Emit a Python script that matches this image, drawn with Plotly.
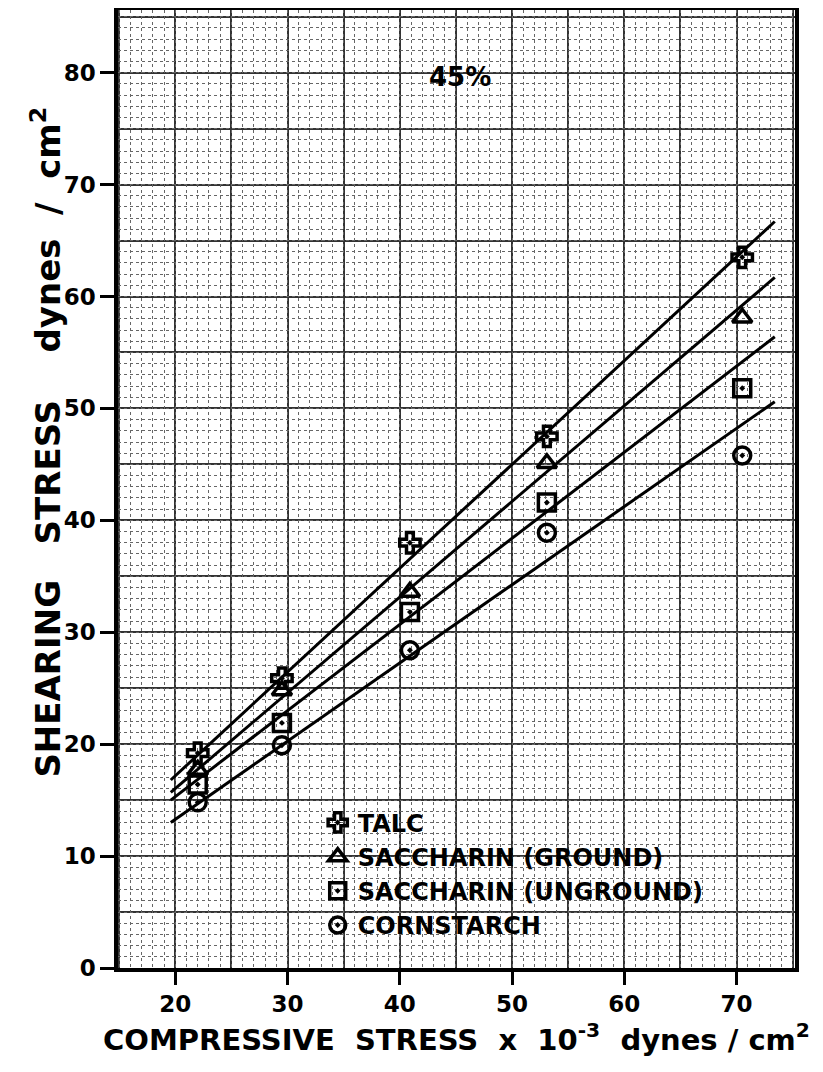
import plotly.graph_objects as go

# ---- data ----
compressive = [22.0, 29.5, 40.9, 53.1, 70.5]
talc = [19.2, 25.9, 38.0, 47.5, 63.5]
sacch_ground = [17.7, 24.8, 33.6, 45.1, 58.1]
sacch_unground = [16.4, 21.9, 31.8, 41.6, 51.8]
cornstarch = [14.8, 19.9, 28.4, 38.9, 45.8]

# fitted straight lines (end points)
line_x = [19.6, 73.4]
talc_line = [16.8, 66.7]
ground_line = [15.7, 61.7]
unground_line = [15.0, 56.4]
corn_line = [13.0, 50.6]

names = ["TALC", "SACCHARIN (GROUND)", "SACCHARIN (UNGROUND)", "CORNSTARCH"]
symbols = ["cross-open-dot", "triangle-up-open", "square-open-dot", "circle-open-dot"]
series = [talc, sacch_ground, sacch_unground, cornstarch]
lines = [talc_line, ground_line, unground_line, corn_line]

x_ticks = [20, 30, 40, 50, 60, 70]
y_ticks = [0, 10, 20, 30, 40, 50, 60, 70, 80]
x_range = [14.9, 75.2]
y_range = [0, 85.6]

fig = go.Figure()

# fine graph-paper grid on overlay axes
fig.add_trace(go.Scatter(x=[], y=[], xaxis="x2", yaxis="y2", showlegend=False))

for ly in lines:
    fig.add_trace(go.Scatter(x=line_x, y=ly, mode="lines",
                             line=dict(color="black", width=3),
                             showlegend=False, hoverinfo="skip"))

for nm, sym, ys in zip(names, symbols, series):
    fig.add_trace(go.Scatter(x=compressive, y=ys, mode="markers", name=nm,
                             marker=dict(symbol=sym, size=17, color="black",
                                         line=dict(color="black", width=3.5))))

fig.add_annotation(x=45.4, y=79.6, text="45%", showarrow=False,
                   font=dict(family="DejaVu Sans", size=26, color="black", weight="bold"))

# y-axis title (placed as a rotated annotation to match its offset position)
fig.add_annotation(xref="paper", yref="paper", x=-0.107, y=0.549,
                   text="SHEARING   STRESS    dynes  /  cm<sup>2</sup>",
                   textangle=-90, showarrow=False, xanchor="center", yanchor="middle",
                   font=dict(family="DejaVu Sans", size=34, color="black", weight="bold"))

tickfont = dict(family="DejaVu Sans", size=23, color="black", weight="bold")

# the page body adds an 8px offset, so the figure is 8px smaller on each axis
fig.update_layout(
    width=815, height=1064,
    margin=dict(l=110, r=28, t=2, b=104, autoexpand=False),
    paper_bgcolor="white", plot_bgcolor="white",
    showlegend=True,
    legend=dict(x=0.295, y=0.175, xanchor="left", yanchor="top",
                bgcolor="rgba(0,0,0,0)", borderwidth=0,
                font=dict(family="DejaVu Sans", size=24, color="black", weight="bold"),
                tracegroupgap=0),
    xaxis=dict(range=x_range, tickvals=x_ticks, ticks="outside", ticklen=13,
               tickwidth=2.5, tickcolor="black", tickfont=tickfont, automargin=False,
               showline=True, linewidth=3.5, linecolor="black", mirror=True,
               showgrid=True, gridcolor="#333", gridwidth=1.5,
               minor=dict(dtick=5, tick0=0, showgrid=True, gridcolor="#333",
                          gridwidth=1.5, ticks=""),
               zeroline=False,
               title=dict(text="COMPRESSIVE  STRESS  x  10<sup>-3</sup>  dynes / cm<sup>2</sup>",
                          font=dict(family="DejaVu Sans", size=29, color="black", weight="bold"),
                          standoff=14)),
    yaxis=dict(range=y_range, tickvals=y_ticks, ticks="outside", ticklen=14,
               tickwidth=2.5, tickcolor="black", tickfont=tickfont, automargin=False,
               showline=True, linewidth=3.5, linecolor="black", mirror=True,
               showgrid=True, gridcolor="#333", gridwidth=1.5,
               minor=dict(dtick=5, tick0=0, showgrid=True, gridcolor="#333",
                          gridwidth=1.5, ticks=""),
               zeroline=False),
    xaxis2=dict(range=x_range, overlaying="x", dtick=1, tick0=0, automargin=False,
                showgrid=True, gridcolor="#666", gridwidth=1, griddash="dot",
                showticklabels=False, ticks="", showline=False, zeroline=False),
    yaxis2=dict(range=y_range, overlaying="y", dtick=1, tick0=0, automargin=False,
                showgrid=True, gridcolor="#666", gridwidth=1, griddash="dot",
                showticklabels=False, ticks="", showline=False, zeroline=False),
)

fig.write_html("out.html")
